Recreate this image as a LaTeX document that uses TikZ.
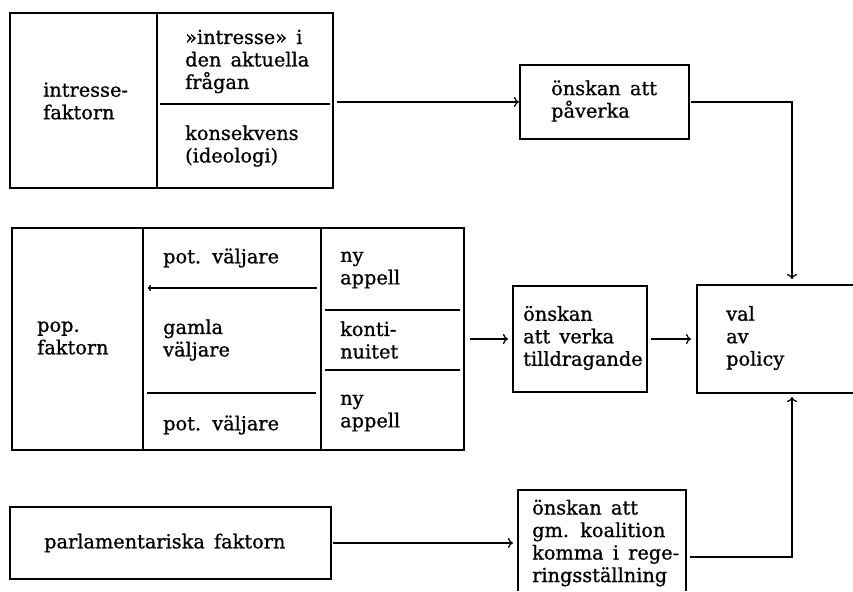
\documentclass[tikz,border=0pt]{standalone}
\usepackage{fontspec}
\setmainfont{DejaVu Serif}[RawFeature={embolden=0.9},WordSpace=1.5]
\usetikzlibrary{arrows.meta}
\tikzset{
  boxline/.style={line width=1.6pt},
  inner/.style={line width=1.4pt},
  arr/.style={line width=1.3pt,-{To[length=5pt,width=10pt]}},
  frame/.style={draw,boxline,inner sep=0pt,outer sep=0pt},
  area/.style={inner sep=0pt,outer sep=0pt},
  txt/.style={anchor=west,align=left,inner sep=0pt,font=\fontsize{19.3}{22.5}\selectfont}
}
\begin{document}
\begin{tikzpicture}[x=1pt,y=-1pt]
\useasboundingbox (0,0) rectangle (853,591);
% boxes
\node[frame,minimum width=323pt,minimum height=175pt] (b1) at (171.5,100.5) {};
\node[frame,minimum width=169pt,minimum height=74pt] (p1) at (604.5,102) {};
\node[frame,minimum width=452pt,minimum height=222pt] (b2) at (238,339) {};
\node[frame,minimum width=134pt,minimum height=106pt] (t1) at (580,339) {};
\node[area,minimum width=156pt,minimum height=108pt] (v) at (775,339) {};
\draw[boxline] (v.north east) -- (v.north west) -- (v.south west) -- (v.south east);
\node[frame,minimum width=321pt,minimum height=72pt] (b3) at (170.5,543) {};
\node[area,minimum width=168pt,minimum height=101pt] (k) at (602,540.5) {};
\draw[boxline] (k.south west) -- (k.north west) -- (k.north east) -- (k.south east);
% inner lines of box 1
\draw[inner] (b1.north -| 157,0) -- (b1.south -| 157,0);
\draw[inner] (160,104) -- (330,104);
% inner lines of box 2
\draw[inner] (b2.north -| 143,0) -- (b2.south -| 143,0);
\draw[inner] (b2.north -| 321,0) -- (b2.south -| 321,0);
\draw[inner,{To[length=3pt,width=6pt]}-] (148,288) -- (317,288);
\draw[inner] (147,393) -- (316,393);
\draw[inner] (325,310) -- (460,310);
\draw[inner] (325,370) -- (460,370);
% texts
\node[txt] (ti1) at (43,101) {intresse-\\faktorn};
\node[txt] (ti2) at (185,61.5) {»intresse» i\\den aktuella\\frågan};
\node[txt] (ti3) at (185,146) {konsekvens\\(ideologi)};
\node[txt] (tp1) at (551,101) {önskan att\\påverka};
\node[txt] (tpop) at (37,338) {pop.\\faktorn};
\node[txt] (tpv1) at (163,258) {pot. väljare};
\node[txt] (tgv) at (163,340) {gamla\\väljare};
\node[txt] (tpv2) at (163,425) {pot. väljare};
\node[txt] (tny1) at (340,270) {ny\\appell};
\node[txt] (tko) at (340,340) {konti-\\nuitet};
\node[txt] (tny2) at (340,413) {ny\\appell};
\node[txt] (tt1) at (523,338) {önskan\\att verka\\tilldragande};
\node[txt] (tv) at (726,338) {val\\av\\policy};
\node[txt] (tb3) at (44,543) {parlamentariska faktorn};
\node[txt] (tk) at (532,543) {önskan att\\gm. koalition\\komma i rege-\\ringsställning};
% connectors
\coordinate (vc) at (792,0);
\draw[arr,shorten <=4pt,shorten >=1pt] (b1.east |- p1.west) -- (p1.west);
\draw[arr,shorten <=2pt,shorten >=6pt] (p1.east) -| (vc |- v.north);
\draw[arr,shorten <=6pt,shorten >=5pt] (b2.east |- t1.west) -- (t1.west);
\draw[arr,shorten <=4pt,shorten >=6pt] (t1.east) -- (v.west);
\draw[arr,shorten <=2pt,shorten >=5pt] (b3.east) -- (b3.east -| k.west);
\draw[arr,shorten <=4pt,shorten >=4pt] ([yshift=-16.5pt]k.east) -| (vc |- v.south);
\end{tikzpicture}
\end{document}
